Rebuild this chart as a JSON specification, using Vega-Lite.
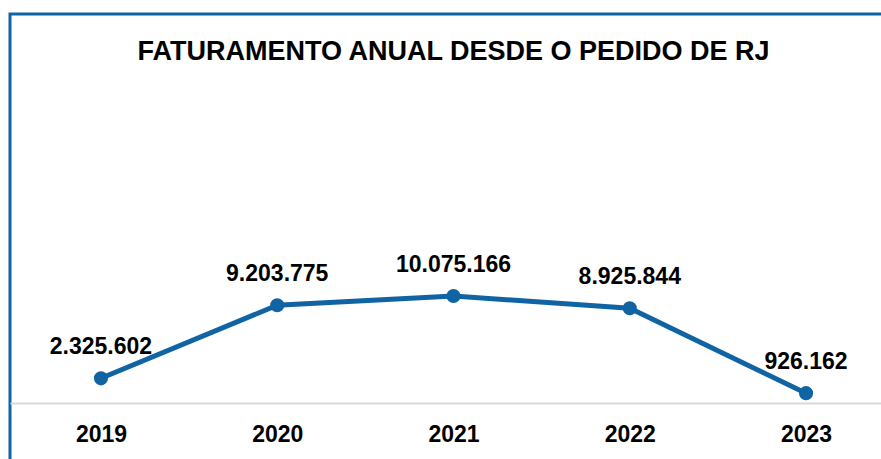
{
  "$schema": "https://vega.github.io/schema/vega-lite/v6.json",
  "autosize": {"type": "none"},
  "padding": {"left": 10, "top": 14, "right": 0, "bottom": 0},
  "width": 887,
  "height": 460,
  "background": "white",
  "title": {
    "text": "FATURAMENTO ANUAL DESDE O PEDIDO DE RJ",
    "anchor": "middle",
    "frame": "group",
    "font": "Liberation Sans",
    "fontSize": 27,
    "fontWeight": "bold",
    "color": "#000000",
    "baseline": "alphabetic",
    "offset": -73
  },
  "config": {
    "view": {"stroke": "#1164A3", "strokeWidth": 3},
    "locale": {
      "number": {"decimal": ",", "thousands": ".", "grouping": [3], "currency": ["R$", ""]}
    }
  },
  "data": {
    "values": [
      {"ano": "2019", "faturamento": 2325602},
      {"ano": "2020", "faturamento": 9203775},
      {"ano": "2021", "faturamento": 10075166},
      {"ano": "2022", "faturamento": 8925844},
      {"ano": "2023", "faturamento": 926162}
    ]
  },
  "encoding": {
    "x": {
      "field": "ano",
      "type": "ordinal",
      "scale": {"type": "point", "padding": 0.516},
      "axis": {
        "title": null,
        "orient": "bottom",
        "offset": -71,
        "labelAngle": 0,
        "ticks": false,
        "domainColor": "#d9d9d9",
        "domainWidth": 2,
        "labelFont": "Liberation Sans",
        "labelFontSize": 23,
        "labelFontWeight": "bold",
        "labelColor": "#000000",
        "labelPadding": 20,
        "grid": false
      }
    },
    "y": {
      "field": "faturamento",
      "type": "quantitative",
      "scale": {"domain": [-6685000, 36630000], "nice": false, "zero": false},
      "axis": null
    }
  },
  "layer": [
    {
      "mark": {"type": "line", "color": "#1164A3", "strokeWidth": 5}
    },
    {
      "mark": {"type": "point", "filled": true, "color": "#1164A3", "size": 200, "opacity": 1}
    },
    {
      "mark": {
        "type": "text",
        "font": "Liberation Sans",
        "fontSize": 23,
        "fontWeight": "bold",
        "color": "#000000",
        "baseline": "alphabetic",
        "dy": -24
      },
      "encoding": {
        "text": {"field": "faturamento", "type": "quantitative", "format": ",d"}
      }
    }
  ]
}
